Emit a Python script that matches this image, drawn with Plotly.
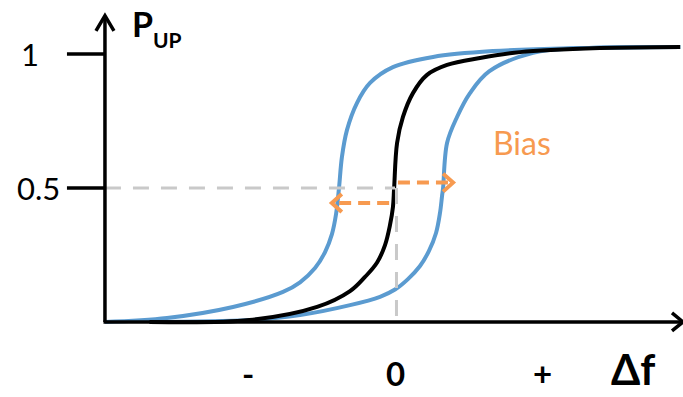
import plotly.graph_objects as go

# Psychometric curves: probability of an "up" response versus frequency difference
# Baseline (black) curve
base_x = [-1.67, -0.99, -0.53, -0.306, -0.204, -0.122, -0.068, -0.034, -0.014, -0.006, 0.014, 0.054, 0.122, 0.218, 0.354, 0.578, 0.85, 1.395, 1.94]
base_y = [0.0, 0.007, 0.056, 0.115, 0.168, 0.222, 0.287, 0.362, 0.429, 0.5, 0.668, 0.765, 0.854, 0.922, 0.959, 0.985, 1.007, 1.022, 1.026]

# Curve shifted towards negative Δf (left blue)
left_x = [-1.973, -1.551, -1.102, -0.762, -0.646, -0.544, -0.476, -0.429, -0.401, -0.381, -0.361, -0.327, -0.259, -0.170, -0.014, 0.259, 0.667, 1.259, 1.94]
left_y = [0.0, 0.015, 0.056, 0.112, 0.148, 0.201, 0.261, 0.328, 0.403, 0.5, 0.616, 0.716, 0.817, 0.892, 0.951, 0.989, 1.011, 1.022, 1.026]

# Curve shifted towards positive Δf (right blue)
right_x = [-1.67, -0.99, -0.646, -0.306, -0.102, 0.0, 0.088, 0.170, 0.231, 0.279, 0.306, 0.320, 0.327, 0.354, 0.422, 0.510, 0.640, 0.939, 1.279, 1.94]
right_y = [0.0, 0.007, 0.026, 0.063, 0.094, 0.121, 0.160, 0.209, 0.265, 0.332, 0.407, 0.470, 0.5, 0.668, 0.765, 0.854, 0.935, 1.004, 1.022, 1.026]

y_ticks = [1, 0.5]
y_tick_labels = ["1", "0.5"]
x_ticks = [-1, 0, 1]
x_tick_labels = ["-", "0", "+"]

BLUE = "#5b9bd0"
ORANGE = "#f79a50"
GRAY = "#c9c9c9"
FONT = "Lato, Carlito, 'Open Sans', sans-serif"

# Figure geometry: 1 data unit on x = 147 px, on y = 268 px
X_RANGE = [-2.687, 1.959]
Y_RANGE = [-0.28, 1.2015]
PX_X = 683 / (X_RANGE[1] - X_RANGE[0])
PX_Y = 397 / (Y_RANGE[1] - Y_RANGE[0])

X0, Y0 = -1.973, 0.0      # axis origin
X_END = 1.959             # end of the Δf axis
Y_END = 1.138             # top of the P axis

fig = go.Figure()

def seg(x0, y0, x1, y1, color="black", width=3.5, dash=None):
    fig.add_shape(type="line", x0=x0, y0=y0, x1=x1, y1=y1, xref="x", yref="y",
                  line=dict(color=color, width=width, dash=dash), layer="above")

def chevron(tx, ty, direction, color="black", width=3.5, arm=9, spread=9):
    # open arrowhead with tip at (tx, ty); arm/spread in pixels
    if direction == "up":
        pts = [(tx - spread / PX_X, ty - arm * 1.7 / PX_Y), (tx, ty), (tx + spread / PX_X, ty - arm * 1.7 / PX_Y)]
    elif direction == "right":
        pts = [(tx - arm / PX_X, ty + spread / PX_Y), (tx, ty), (tx - arm / PX_X, ty - spread / PX_Y)]
    else:
        pts = [(tx + arm / PX_X, ty + spread / PX_Y), (tx, ty), (tx + arm / PX_X, ty - spread / PX_Y)]
    fig.add_trace(go.Scatter(x=[p[0] for p in pts], y=[p[1] for p in pts], mode="lines",
                             line=dict(color=color, width=width), hoverinfo="skip"))

# Reference guides at P = 0.5 and Δf = 0
seg(X0, 0.5, 0.0, 0.5, color=GRAY, width=3, dash="16px,12px")
seg(0.01, 0.5, 0.01, 0.0, color=GRAY, width=3, dash="16px,12px")

# Curves
for xs, ys, c in [(right_x, right_y, BLUE), (left_x, left_y, BLUE), (base_x, base_y, "black")]:
    fig.add_trace(go.Scatter(x=xs, y=ys, mode="lines",
                             line=dict(color=c, width=4, shape="spline", smoothing=1.0),
                             hoverinfo="skip"))

# Axes with arrowheads
seg(X0 - 0.01, Y0, X_END, Y0, width=3.5)
seg(X0, Y0, X0, Y_END, width=3.5)
chevron(X_END, Y0, "right", arm=11, spread=9)
chevron(X0, Y_END + 0.005, "up", arm=9, spread=9)

# Tick marks on the P axis
for yt in y_ticks:
    seg(X0 - 38 / PX_X, yt, X0, yt, width=3.5)

# Bias arrows
seg(0.02, 0.52, 0.385, 0.52, color=ORANGE, width=4, dash="12px,7px")
chevron(0.395, 0.52, "right", color=ORANGE, width=4, arm=10, spread=9)
seg(-0.04, 0.444, -0.42, 0.444, color=ORANGE, width=4, dash="12px,7px")
chevron(-0.43, 0.444, "left", color=ORANGE, width=4, arm=10, spread=9)

# Text
label_px = {"1": 30, "0.5": 38}
for yt, lab in zip(y_ticks, y_tick_labels):
    fig.add_annotation(x=X_RANGE[0] + label_px[lab] / PX_X, y=yt, text=lab, showarrow=False,
                       xanchor="center", yanchor="middle",
                       font=dict(family=FONT, size=31, color="black"))
for xt, lab in zip(x_ticks, x_tick_labels):
    fig.add_annotation(x=xt, y=-0.19, text="<b>" + lab + "</b>", showarrow=False,
                       xanchor="center", yanchor="middle",
                       font=dict(family=FONT, size=33, color="black"))
fig.add_annotation(x=1.62, y=-0.175, text="<b>Δf</b>", showarrow=False, xanchor="center",
                   yanchor="middle", font=dict(family=FONT, size=42, color="black"))
fig.add_annotation(x=X0 + 25 / PX_X, y=1.115, text="<b>P</b>", showarrow=False,
                   xanchor="left", yanchor="middle", font=dict(family=FONT, size=34, color="black"))
fig.add_annotation(x=X0 + 46 / PX_X, y=1.055, text="<b>UP</b>", showarrow=False,
                   xanchor="left", yanchor="middle", font=dict(family=FONT, size=21, color="black"))
fig.add_annotation(x=0.864, y=0.668, text="Bias", showarrow=False, xanchor="center",
                   yanchor="middle", font=dict(family=FONT, size=32, color=ORANGE))

fig.update_layout(
    width=683, height=397, margin=dict(l=0, r=0, t=0, b=0),
    paper_bgcolor="white", plot_bgcolor="white", showlegend=False,
    xaxis=dict(range=X_RANGE, visible=False, fixedrange=True),
    yaxis=dict(range=Y_RANGE, visible=False, fixedrange=True),
)

fig.write_html("out.html")
